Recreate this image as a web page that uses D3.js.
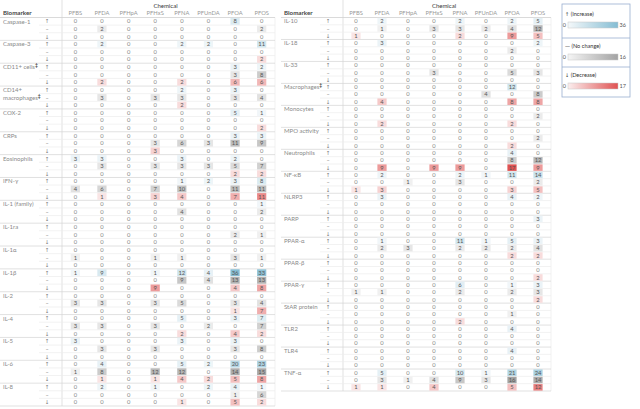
<!DOCTYPE html>
<html><head><meta charset="utf-8">
<script src="https://cdn.jsdelivr.net/npm/d3@7"></script>
<style>
html,body{margin:0;padding:0;background:#fff;}
svg{display:block;font-family:Lato,"Open Sans",sans-serif;}
</style></head>
<body><svg id="c" width="640" height="409"></svg>
<script>
const chemicals = ["PFBS","PFDA","PFHpA","PFHxS","PFNA","PFUnDA","PFOA","PFOS"];
const directions = ["↑","–","↓"];
const leftBiomarkers = ["Caspase-1","Caspase-3","CD11+ cells‡","CD14+|macrophages‡","COX-2","CRPs","Eosinophils","IFN-γ","IL-1 (family)","IL-1ra","IL-1α","IL-1β","IL-2","IL-4","IL-5","IL-6","IL-8"];
const rightBiomarkers = ["IL-10","IL-18","IL-33","Macrophages‡","Monocytes","MPO activity","Neutrophils","NF-κB","NLRP3","PARP","PPAR-α","PPAR-β","PPAR-γ","StAR protein","TLR2","TLR4","TNF-α"];

const leftUp = [
 [0,0,0,0,0,0,8,0],[0,2,0,0,2,2,0,11],[0,0,0,0,0,0,3,2],[0,0,0,0,2,0,3,0],
 [0,0,0,0,0,0,5,1],[0,0,0,0,0,0,3,3],[3,3,0,0,3,0,2,0],[0,0,0,0,1,2,3,8],
 [0,0,0,0,0,0,0,1],[0,0,0,0,0,0,0,0],[0,0,0,0,0,0,0,0],[1,9,0,1,12,4,36,33],
 [0,0,0,0,0,0,0,0],[0,0,0,0,5,0,3,7],[3,0,0,0,3,0,3,0],[0,4,0,0,5,2,20,23],
 [0,2,0,1,0,2,4,1]];
const leftSame = [
 [0,2,0,0,0,0,0,2],[0,0,0,0,0,0,0,0],[0,0,0,0,0,0,3,8],[0,3,0,3,3,0,3,4],
 [0,0,0,0,0,0,0,0],[0,0,0,3,6,3,11,9],[0,3,0,3,3,3,5,7],[4,6,0,7,10,0,11,11],
 [0,0,0,0,4,0,0,2],[0,0,0,0,0,0,2,1],[1,0,0,1,1,0,3,1],[0,0,0,0,9,4,13,13],
 [3,3,0,3,5,0,3,4],[3,3,0,3,0,2,0,7],[0,3,0,3,0,0,3,8],[1,8,0,12,12,0,14,15],
 [0,0,0,0,0,0,1,6]];
const leftDown = [
 [0,0,0,0,0,0,0,0],[0,0,0,0,0,0,0,2],[0,2,0,0,2,0,6,6],[0,0,0,0,2,0,0,0],
 [0,0,0,0,0,0,0,2],[0,0,0,3,0,0,0,0],[0,0,0,0,0,0,2,2],[0,1,0,3,4,0,7,11],
 [0,0,0,0,0,0,0,0],[0,0,0,0,0,0,0,0],[0,0,0,0,0,0,0,0],[0,0,0,9,0,0,4,8],
 [0,0,0,0,0,0,1,7],[0,0,0,0,2,0,4,2],[0,0,0,0,0,0,0,0],[0,1,0,1,4,2,5,8],
 [0,0,0,0,1,0,5,2]];

const rightUp = [
 [0,2,0,0,2,0,2,5],[0,3,0,0,0,0,0,2],[0,0,0,0,0,0,0,0],[0,0,0,0,0,0,12,0],
 [0,0,0,0,0,0,0,0],[0,0,0,0,0,0,0,0],[0,0,0,0,0,0,4,0],[0,2,0,0,2,1,11,14],
 [0,3,0,0,0,0,4,2],[0,0,0,0,0,0,0,3],[0,1,0,0,11,1,5,3],[0,0,0,0,0,0,0,0],
 [0,0,0,0,6,0,1,3],[0,0,0,0,0,0,0,0],[0,0,0,0,0,0,4,0],[0,0,0,0,0,0,4,0],
 [0,5,0,0,10,1,21,24]];
const rightSame = [
 [0,1,0,3,3,2,4,12],[0,0,0,0,0,0,2,0],[0,0,0,3,0,0,5,3],[0,0,0,0,0,4,0,8],
 [0,0,0,0,0,0,0,2],[0,0,0,0,0,0,0,2],[0,0,0,0,0,0,8,12],[0,0,1,0,3,0,0,2],
 [0,0,0,0,0,0,0,0],[0,0,0,0,0,0,0,0],[0,2,3,0,2,2,2,4],[0,0,0,0,0,0,0,0],
 [1,1,0,0,2,0,2,3],[0,0,0,0,0,0,1,0],[0,0,0,0,0,0,0,0],[0,0,0,0,0,0,0,0],
 [0,3,1,4,9,3,16,14]];
const rightDown = [
 [1,0,0,0,2,0,9,5],[0,0,0,0,0,0,0,0],[0,0,0,0,0,0,0,0],[0,4,0,0,0,0,8,8],
 [0,2,0,0,0,0,2,0],[0,0,0,0,0,0,2,0],[0,9,0,9,9,0,17,9],[1,3,0,0,0,0,3,5],
 [0,0,0,0,0,0,0,0],[0,0,0,0,0,0,0,0],[0,0,0,0,0,0,2,2],[0,0,0,0,0,0,0,2],
 [0,0,0,0,0,0,0,2],[0,0,0,0,2,0,0,0],[0,0,0,0,0,0,0,0],[0,0,0,0,0,0,0,0],
 [1,1,0,4,0,0,5,12]];

const legendSymbols = ["↑","—","↓"];
const legendTitles = ["(Increase)","(No change)","(Decrease)"];
const legendMax = [36,16,17];

const svg = d3.select("#c");
const colorUp = d3.scaleLinear().domain([0,36]).range(["#f4f8fa","#85bdd3"]);
const colorSame = d3.scaleLinear().domain([0,16]).range(["#f5f5f5","#a3a3a3"]);
const colorDown = d3.scaleLinear().domain([0,17]).range(["#fbeeee","#e05252"]);
const colorScales = [colorUp,colorSame,colorDown];
const arrowFont = "'DejaVu Sans', sans-serif";

function drawTable(opt){
  const g = svg.append("g");
  const nRows = opt.biomarkers.length*3;
  const x = d3.scaleBand().domain(chemicals).range([opt.x0,opt.x1]);
  const y = d3.scaleBand().domain(d3.range(nRows)).range([opt.y0,opt.y1]);
  const rh = y.bandwidth();
  g.append("text").attr("x",(opt.x0+opt.x1)/2 - 3).attr("y",7.5).attr("text-anchor","middle")
    .attr("font-size",6).attr("fill","#333").text("Chemical");
  g.append("text").attr("x",opt.left+3).attr("y",15).attr("font-size",6.2).attr("font-weight","bold")
    .attr("fill","#444").text("Biomarker");
  g.selectAll(".ch").data(chemicals).join("text")
    .attr("x",d=>x(d)+x.bandwidth()/2).attr("y",15).attr("text-anchor","middle")
    .attr("font-size",5.8).attr("fill","#999").text(d=>d);
  g.append("line").attr("x1",opt.x0).attr("x2",opt.x0).attr("y1",0).attr("y2",opt.y1)
    .attr("stroke","#d9d9d9").attr("stroke-width",0.8);
  g.append("line").attr("x1",opt.x1).attr("x2",opt.x1).attr("y1",opt.y0).attr("y2",opt.y1)
    .attr("stroke","#eeeeee").attr("stroke-width",0.8);
  g.append("line").attr("x1",opt.left).attr("x2",opt.x1).attr("y1",opt.y0).attr("y2",opt.y0)
    .attr("stroke","#d0d0d0").attr("stroke-width",0.8);
  const rows = [];
  opt.biomarkers.forEach((b,i)=>{
    [opt.up,opt.same,opt.down].forEach((arr,k)=>{
      rows.push({b,i,k,vals:arr[i],r:i*3+k});
    });
  });
  g.selectAll(".rl").data(rows).join("line")
    .attr("x1",d=>d.k===2?opt.left:opt.arrowX-8).attr("x2",opt.x1)
    .attr("y1",d=>y(d.r)+rh).attr("y2",d=>y(d.r)+rh)
    .attr("stroke",d=>d.k===2?"#d4d4d4":"#ececec").attr("stroke-width",0.7);
  opt.biomarkers.forEach((b,i)=>{
    const parts = b.split("|");
    parts.forEach((p,j)=>{
      const t = g.append("text").attr("x",opt.left+3).attr("y",y(i*3+j)+rh/2+2.2)
        .attr("font-size",6).attr("fill","#8a8a8a");
      if(p.endsWith("‡")){
        t.append("tspan").text(p.slice(0,-1));
        t.append("tspan").attr("font-size",5).attr("dy",-2).attr("font-weight","bold").attr("fill","#444").text("‡");
      } else t.text(p);
    });
  });
  g.selectAll(".ar").data(rows).join("text")
    .attr("x",opt.arrowX).attr("y",d=>y(d.r)+rh/2+2.1).attr("text-anchor","middle")
    .attr("font-family",arrowFont).attr("font-size",5.5).attr("fill","#777").text(d=>directions[d.k]);
  const cells = [];
  rows.forEach(rw=>rw.vals.forEach((v,c)=>cells.push({v,c,k:rw.k,r:rw.r})));
  g.selectAll(".bx").data(cells.filter(d=>d.v>0)).join("rect")
    .attr("x",d=>x(chemicals[d.c])+x.bandwidth()/2-4.6).attr("y",d=>y(d.r)+0.4)
    .attr("width",9.2).attr("height",rh-0.8)
    .attr("fill",d=>colorScales[d.k](d.v));
  g.selectAll(".tx").data(cells).join("text")
    .attr("x",d=>x(chemicals[d.c])+x.bandwidth()/2).attr("y",d=>y(d.r)+rh/2+2.1)
    .attr("text-anchor","middle").attr("font-size",5.8)
    .attr("fill",d=>d.v>0?"#555":"#888").text(d=>d.v);
}

drawTable({biomarkers:leftBiomarkers,up:leftUp,same:leftSame,down:leftDown,
  left:0,x0:62,x1:275,y0:17.5,y1:406,arrowX:47});
drawTable({biomarkers:rightBiomarkers,up:rightUp,same:rightSame,down:rightDown,
  left:281,x0:343,x1:551,y0:17.5,y1:391,arrowX:328});

const lg = svg.append("g");
const secY = [4,38,67,97];
lg.append("rect").attr("x",562).attr("y",4).attr("width",68).attr("height",93)
  .attr("fill","none").attr("stroke","#9aaed0").attr("stroke-width",0.8);
[38,67].forEach(yy=>lg.append("line").attr("x1",562).attr("x2",630).attr("y1",yy).attr("y2",yy)
  .attr("stroke","#9aaed0").attr("stroke-width",0.8));
const defs = svg.append("defs");
legendTitles.forEach((t,i)=>{
  const top = secY[i];
  const gid = "lg"+i;
  const grad = defs.append("linearGradient").attr("id",gid);
  grad.append("stop").attr("offset","0%").attr("stop-color",colorScales[i](0));
  grad.append("stop").attr("offset","100%").attr("stop-color",colorScales[i](legendMax[i]));
  const ty = i===0?16:top+10;
  const tt = lg.append("text").attr("x",565).attr("y",ty).attr("font-size",5.6).attr("fill","#333");
  tt.append("tspan").attr("font-family",arrowFont).attr("font-size",5).text(legendSymbols[i]);
  tt.append("tspan").text(" "+t);
  const by = ty+6;
  const bs = d3.scaleLinear().domain([0,legendMax[i]]).range([568,618]);
  lg.append("rect").attr("x",bs(0)).attr("y",by).attr("width",bs(legendMax[i])-bs(0)).attr("height",6)
    .attr("fill","url(#"+gid+")").attr("stroke","#c8c8c8").attr("stroke-width",0.5);
  lg.append("text").attr("x",bs(0)-2).attr("y",by+5).attr("text-anchor","end").attr("font-size",5.5).attr("fill","#555").text(0);
  lg.append("text").attr("x",bs(legendMax[i])+1.5).attr("y",by+5).attr("font-size",5.5).attr("fill","#555").text(legendMax[i]);
});
</script></body></html>
